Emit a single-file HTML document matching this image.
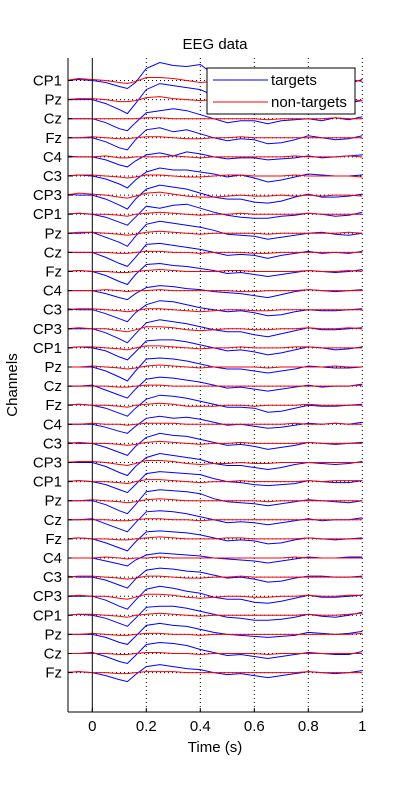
<!DOCTYPE html>
<html><head><meta charset="utf-8"><style>
html,body{margin:0;padding:0;background:#fff;}
svg{display:block;font-family:"Liberation Sans",sans-serif;}
</style></head><body>
<svg id="chart" width="400" height="800" viewBox="0 0 400 800" xmlns="http://www.w3.org/2000/svg">
<rect x="0" y="0" width="400" height="800" fill="#fff"/>
<text x="215" y="49" font-size="15" text-anchor="middle">EEG data</text>
<text x="0" y="0" font-size="15" text-anchor="middle" transform="translate(17,385) rotate(-90)">Channels</text>
<text x="215" y="752" font-size="15" text-anchor="middle">Time (s)</text>
<g id="grid"></g>
<g id="series"></g>
<g id="axes"></g>
<g id="legend">
<rect x="207" y="68" width="148" height="46" fill="#fff" stroke="#000" stroke-width="1"/>
<line x1="213" y1="80" x2="268" y2="80" stroke="#0000ff" stroke-width="1"/>
<text x="271" y="85" font-size="15">targets</text>
<line x1="213" y1="102" x2="268" y2="102" stroke="#ff0000" stroke-width="1"/>
<text x="271" y="107" font-size="15">non-targets</text>
</g>
</svg>
<script>
const times = [-0.1,-0.05,0,0.05,0.1,0.13,0.16,0.2,0.25,0.3,0.35,0.4,0.45,0.5,0.55,0.6,0.65,0.7,0.75,0.8,0.85,0.9,0.95,1.0];
const channelLabels = ["CP1","Pz","Cz","Fz","C4","C3","CP3","CP1","Pz","Cz","Fz","C4","C3","CP3","CP1","Pz","Cz","Fz","C4","C3","CP3","CP1","Pz","Cz","Fz","C4","C3","CP3","CP1","Pz","Cz","Fz"];
const xTicks = [0,0.2,0.4,0.6,0.8,1];
const xTickLabels = ["0","0.2","0.4","0.6","0.8","1"];
const targets = [
[0,1,0,-2,-6,-8,-2,12,18,15,14,16,6,-2,-4,-5,-6,-4,-3,0,-2,-4,-3,1],
[0,0,0,-4,-10,-14,-4,10,16,14,12,10,4,0,-2,-4,-5,-3,-2,1,0,-2,-3,-1],
[0,0,0,-4,-10,-12,-4,6,8,10,8,4,0,-4,-2,-2,-5,-2,-1,0,-2,1,-1,2],
[0,0,0,-4,-10,-12,-2,8,10,6,8,4,0,-3,-1,-2,-6,-5,-2,2,0,-2,-1,2],
[1,0,0,-3,-8,-10,-4,2,4,1,5,3,0,-2,-1,-1,-3,-2,-1,1,-1,0,1,2],
[0,1,0,-3,-8,-12,-4,4,8,6,6,4,2,-1,1,-2,-6,-4,-1,2,1,0,0,1],
[1,0,0,-4,-10,-14,-4,6,10,8,6,2,-2,-4,-4,-7,-8,-6,-2,1,-2,-2,-1,1],
[0,1,0,-3,-8,-11,-3,8,6,9,10,6,2,-1,-3,-4,-4,-2,-1,1,0,-2,-1,2],
[0,0,1,-4,-9,-13,-3,9,12,10,8,6,3,-1,-2,-3,-6,-4,-2,0,1,-1,-2,0],
[0,0,0,-5,-11,-14,-5,8,9,7,5,3,0,-3,-2,-3,-6,-3,-1,1,-1,0,-1,1],
[0,1,0,-4,-10,-13,-3,7,8,6,5,3,1,-2,-1,-3,-5,-3,-1,1,0,-1,0,2],
[0,0,0,-3,-7,-9,-3,3,5,4,2,1,-1,-2,-3,-5,-7,-4,-1,1,0,-1,0,1],
[1,0,0,-4,-9,-12,-3,5,9,8,5,2,0,-2,-1,-3,-6,-5,-2,0,-1,-1,0,1],
[0,0,0,-4,-10,-14,-5,6,9,7,5,2,-1,-3,-3,-6,-8,-5,-2,1,-1,-1,0,1],
[0,1,0,-3,-9,-12,-4,7,8,8,6,3,0,-3,-2,-4,-7,-5,-2,1,0,-2,-1,1],
[0,0,0,-4,-10,-14,-4,8,9,8,6,3,0,-2,-2,-4,-6,-4,-2,1,0,-1,-1,0],
[0,0,1,-4,-9,-12,-3,7,9,8,6,4,1,-2,-1,-3,-5,-3,-1,1,-1,0,0,2],
[0,1,0,-3,-8,-11,-3,6,10,9,7,4,1,-2,-2,-3,-7,-6,-3,0,-1,-1,0,1],
[0,0,0,-3,-7,-9,-2,6,8,6,7,5,2,-1,0,-2,-4,-3,-1,1,0,1,0,2],
[1,0,0,-4,-9,-12,-3,6,10,8,7,4,1,-2,-1,-3,-6,-4,-2,1,0,-1,0,1],
[0,0,0,-4,-10,-13,-4,5,9,7,5,3,-1,-3,-3,-5,-7,-5,-2,0,-1,-2,-1,1],
[0,1,0,-3,-8,-11,-3,8,10,9,8,7,3,0,-1,-3,-4,-3,-2,1,0,-1,-1,1],
[0,0,0,-4,-10,-13,-4,9,11,10,9,7,2,-1,-2,-3,-5,-3,-1,1,0,-1,-2,0],
[0,0,1,-4,-9,-12,-3,8,9,8,6,3,0,-3,-2,-3,-5,-3,-1,1,-1,0,0,2],
[0,1,0,-4,-9,-12,-3,7,8,7,6,4,1,-2,-1,-2,-5,-4,-1,1,0,-1,0,1],
[0,0,0,-3,-6,-8,-2,3,5,4,3,2,0,-1,-2,-3,-5,-3,-1,1,0,0,1,1],
[1,0,0,-3,-8,-11,-2,7,9,8,6,5,2,-1,0,-2,-5,-4,-1,1,1,0,0,1],
[0,0,0,-4,-10,-13,-4,7,10,8,5,3,-1,-3,-3,-6,-7,-5,-2,1,-1,-1,0,1],
[0,1,0,-3,-8,-11,-3,8,9,9,7,4,1,-2,-3,-5,-5,-4,-2,1,-1,-2,0,3],
[0,0,0,-3,-8,-10,-2,9,11,9,8,5,2,0,-1,-2,-3,-2,-1,2,1,0,1,3],
[0,0,1,-3,-8,-10,-2,9,11,10,8,4,1,-2,-1,-3,-5,-3,-1,1,0,-1,-1,2],
[0,1,0,-3,-7,-9,-2,6,8,6,4,3,0,-2,-1,-3,-5,-3,-1,1,0,-1,0,2]
];
const nontargets = [
[0,2,1,0,-2,-3,-1,3,3,2,0,-2,-1,0,1,0,-1,0,0,1,0,0,1,-1],
[0,1,1,0,-2,-2,-1,2,3,1,0,-1,0,0,1,0,-1,0,0,1,0,0,0,-1],
[0,0,0,0,0,0,0,1,1,0,0,0,0,0,0,0,-1,0,0,0,0,1,0,0],
[0,0,1,0,-1,-1,0,1,1,0,-1,-1,0,0,1,0,0,0,0,0,0,0,0,0],
[0,0,0,1,-1,-1,0,0,0,1,0,-1,0,0,0,0,0,0,1,0,0,0,1,0],
[0,1,1,0,-1,-2,-1,1,1,0,-1,-1,0,1,1,0,0,0,1,0,0,0,0,-1],
[0,2,1,0,-2,-3,-1,2,3,1,-1,-2,-2,-1,0,-1,-1,0,-1,0,-1,0,0,-1],
[0,1,0,0,-1,-2,0,1,2,1,0,-1,0,0,1,0,0,0,0,1,0,0,0,0],
[0,1,1,0,-1,-2,-1,1,2,1,0,-1,0,0,0,0,-1,0,0,0,0,0,1,0],
[0,0,0,0,-1,-1,0,1,1,0,0,-1,0,0,0,-1,-1,0,0,0,0,0,0,0],
[0,1,0,0,-1,-1,0,1,2,1,0,0,0,1,1,0,0,0,0,1,0,0,1,0],
[0,0,0,1,0,-1,0,0,1,0,0,0,0,0,-1,-1,0,0,0,1,0,0,0,0],
[0,1,1,0,-1,-2,-1,1,1,0,-1,-2,-1,0,0,-1,-1,0,0,0,0,0,0,0],
[0,1,0,0,-2,-3,-1,2,2,1,-1,-2,-1,0,0,-1,-1,0,0,1,0,0,1,0],
[0,1,1,0,-1,-2,0,2,2,1,0,-1,0,0,1,0,0,0,1,1,0,0,0,0],
[0,0,1,0,-1,-2,-1,1,2,1,0,-1,0,0,0,0,-1,0,0,0,0,1,0,0],
[0,0,0,0,-1,-1,0,1,1,0,0,0,0,0,0,0,0,0,0,0,0,0,0,1],
[0,1,0,0,-1,-2,0,1,2,1,-1,-1,-1,0,0,-1,0,0,0,1,0,0,0,0],
[0,0,1,0,0,-1,0,1,1,1,0,0,0,0,0,0,0,0,1,0,0,1,0,0],
[0,1,0,0,-1,-2,-1,1,2,1,0,-1,0,0,1,0,0,0,0,1,0,0,0,0],
[0,1,1,0,-2,-3,-1,2,2,1,-1,-2,-1,-1,0,-1,-1,0,0,0,0,0,0,0],
[0,1,0,0,-1,-2,0,2,2,1,0,-1,0,0,1,0,0,0,0,1,0,1,1,1],
[0,0,1,0,-1,-2,-1,1,2,1,0,0,0,0,0,0,-1,0,0,0,0,0,0,0],
[0,0,0,0,-1,-1,0,1,1,0,0,-1,0,0,0,0,0,0,0,0,0,0,0,0],
[0,1,0,0,-1,-1,0,1,2,1,0,0,0,1,1,0,0,0,0,1,0,0,0,0],
[0,0,0,1,0,-1,0,0,1,0,0,0,0,0,0,0,0,0,1,0,0,0,0,0],
[0,1,1,0,-1,-2,-1,1,1,0,-1,-1,0,0,1,0,0,0,0,0,0,0,0,0],
[0,1,0,0,-2,-3,-1,2,2,1,-1,-2,-1,0,0,-1,-1,0,0,1,0,0,1,1],
[0,1,1,0,-1,-2,0,1,2,1,0,-1,0,0,0,0,0,0,0,1,0,0,1,2],
[0,0,1,0,-1,-1,0,1,1,0,0,-1,0,0,0,0,0,0,0,0,0,0,0,1],
[0,0,0,0,-1,-1,0,1,1,0,0,-1,0,0,0,0,-1,0,0,0,0,0,0,0],
[0,1,0,0,-1,-1,0,1,1,1,0,0,0,0,0,0,0,0,0,1,0,0,0,0]
];

const NS = "http://www.w3.org/2000/svg";
const X0 = 92.3, XS = 270, XMIN = -0.09, XMAX = 1.0;
const Y0 = 80.5, YSTEP = 19.1, VSCALE = 1.0;
const PLOT_TOP = 58, PLOT_BOTTOM = 712;
function xScale(t){ return X0 + t * XS; }
function yBase(i){ return Y0 + i * YSTEP; }
function yScale(i, v){ return yBase(i) - v * VSCALE; }
function mk(tag, attrs, parent){
  const el = document.createElementNS(NS, tag);
  for (const k in attrs) el.setAttribute(k, attrs[k]);
  parent.appendChild(el);
  return el;
}
const grid = document.getElementById("grid");
const series = document.getElementById("series");
const axes = document.getElementById("axes");
const xL = xScale(XMIN), xR = xScale(XMAX);

xTicks.forEach((t, k) => {
  if (t === 0) return;
  const g = mk("line", {x1: xScale(t), x2: xScale(t), y1: PLOT_TOP, y2: PLOT_BOTTOM, stroke: "#000", "stroke-width": 1, "stroke-dasharray": "1,3"}, grid);
  
  
});
channelLabels.forEach((lab, i) => {
  const g = mk("line", {x1: xL, x2: xR, y1: yBase(i), y2: yBase(i), stroke: "#000", "stroke-width": 1, "stroke-dasharray": "1,3"}, grid);
  
  
});

function clipPts(vals, i){
  const pts = [];
  for (let k = 0; k < times.length; k++){
    let t = times[k], v = vals[k];
    if (t < XMIN && k + 1 < times.length){
      const f = (XMIN - t) / (times[k+1] - t);
      v = v + f * (vals[k+1] - v); t = XMIN;
    }
    pts.push(xScale(t).toFixed(1) + "," + yScale(i, v).toFixed(1));
  }
  return pts.join(" ");
}
channelLabels.forEach((lab, i) => {
  const b = mk("polyline", {points: clipPts(targets[i], i), fill: "none", stroke: "#0000ff", "stroke-width": 1}, series);
  
  
  const r = mk("polyline", {points: clipPts(nontargets[i], i), fill: "none", stroke: "#ff0000", "stroke-width": 1}, series);
  
  
  const tx = mk("text", {x: 62, y: yBase(i) + 5, "font-size": 15, "text-anchor": "end"}, axes);
  tx.textContent = lab;
  
  
  const tk = mk("line", {x1: xL, x2: xL + 4, y1: yBase(i), y2: yBase(i), stroke: "#000", "stroke-width": 1}, axes);
  
  
});
const zl = mk("line", {x1: xScale(0), x2: xScale(0), y1: PLOT_TOP, y2: PLOT_BOTTOM, stroke: "#000", "stroke-width": 1}, axes);


const ya = mk("line", {x1: xL, x2: xL, y1: PLOT_TOP, y2: PLOT_BOTTOM, stroke: "#000", "stroke-width": 1}, axes);


const xa = mk("line", {x1: xL, x2: xR, y1: PLOT_BOTTOM, y2: PLOT_BOTTOM, stroke: "#000", "stroke-width": 1}, axes);


xTicks.forEach((t, k) => {
  const tk = mk("line", {x1: xScale(t), x2: xScale(t), y1: PLOT_BOTTOM, y2: PLOT_BOTTOM - 4, stroke: "#000", "stroke-width": 1}, axes);
  
  
  const tl = mk("text", {x: xScale(t), y: 731, "font-size": 15, "text-anchor": "middle"}, axes);
  tl.textContent = xTickLabels[k];
  
  
});
</script>
</body></html>
